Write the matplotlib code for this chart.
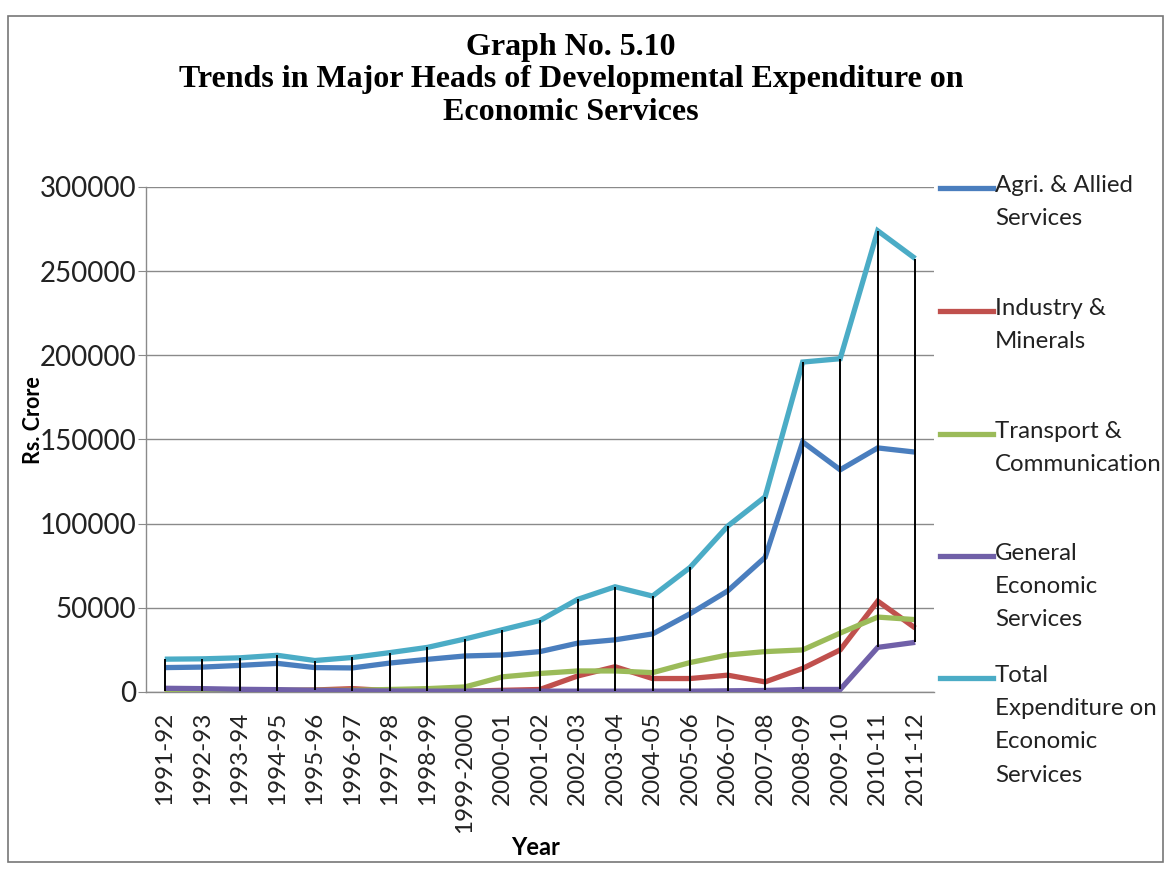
import matplotlib
matplotlib.use("Agg")
import matplotlib.pyplot as plt
from matplotlib.patches import Rectangle
from matplotlib.lines import Line2D

# Expenditure on economic services, Rs. crore
years = ["1991-92", "1992-93", "1993-94", "1994-95", "1995-96", "1996-97", "1997-98",
         "1998-99", "1999-2000", "2000-01", "2001-02", "2002-03", "2003-04", "2004-05",
         "2005-06", "2006-07", "2007-08", "2008-09", "2009-10", "2010-11", "2011-12"]

agri = [14500, 14800, 15800, 17000, 14500, 14300, 17200, 19400, 21400, 22000, 24000,
        29000, 31000, 34500, 46500, 60000, 80000, 148500, 132000, 145000, 142500]
industry = [500, 500, 600, 800, 1200, 2000, 800, 300, 500, 1000, 1500,
            9500, 15000, 8000, 8000, 10000, 6000, 14000, 25000, 54000, 38000]
transport = [800, 800, 900, 1000, 1000, 1000, 1500, 2000, 3000, 9000, 11000,
             12500, 12500, 11500, 17500, 22000, 24000, 25000, 35000, 44500, 43000]
general = [2200, 2000, 1600, 1400, 1000, 700, 600, 500, 500, 500, 500,
           500, 500, 500, 500, 700, 900, 1500, 1500, 26500, 29500]
total = [19500, 19700, 20300, 21800, 18700, 20500, 23400, 26500, 31500, 37000, 42500,
         55000, 62500, 57000, 74000, 98500, 116000, 196000, 198000, 274000, 257500]

labels = ["Agri. & Allied\nServices", "Industry &\nMinerals", "Transport &\nCommunication",
          "General\nEconomic\nServices", "Total\nExpenditure on\nEconomic\nServices"]
colors = ["#4A7EBE", "#C0504D", "#9BBB59", "#7060A8", "#4BACC6"]
series = [agri, industry, transport, general, total]

W, H = 1166, 869
fig = plt.figure(figsize=(W / 100, H / 100), dpi=100)
fig.patch.set_facecolor("white")

# outer chart frame
fig.patches.append(Rectangle((8 / W, 1 - 862 / H), 1155 / W, 846 / H,
                             transform=fig.transFigure, fill=False,
                             ec="#777777", lw=1.2))

ax = fig.add_axes([146 / W, 1 - 692 / H, 788 / W, 505 / H])
x = list(range(len(years)))

for vals, c in zip(series, colors):
    ax.plot(x, vals, color=c, lw=3.8, solid_capstyle="butt", solid_joinstyle="miter", zorder=3)

# high-low lines between the smallest and largest value in each year
lows = [min(v) for v in zip(*series)]
highs = [max(v) for v in zip(*series)]
ax.vlines(x, lows, highs, color="black", lw=1.4, zorder=4)

ax.set_xlim(-0.5, len(years) - 0.5)
ax.set_ylim(0, 300000)
ax.set_yticks(range(0, 300001, 50000))
ax.yaxis.grid(True, color="#8a8a8a", lw=1.0)
ax.set_axisbelow(True)
for s in ["top", "right"]:
    ax.spines[s].set_visible(False)
for s in ["left", "bottom"]:
    ax.spines[s].set_color("#8a8a8a")
    ax.spines[s].set_linewidth(1.0)

ax.set_xticks(x)
ax.set_xticklabels(years, rotation=90, fontsize=17.5, family="Lato", color="#222222")
ax.tick_params(axis="x", length=0, pad=14)
ax.tick_params(axis="y", length=6, color="#8a8a8a", pad=1, labelsize=20, labelcolor="#222222")
for t in ax.get_yticklabels():
    t.set_family("Lato")

ax.set_xlabel("Year", fontsize=17, fontweight="bold", family="Lato")
ax.xaxis.set_label_coords(0.494, -0.285)
fig.text(33 / W, 1 - 420 / H, "Rs. Crore", rotation=90, fontsize=15.5, fontweight="bold",
         family="Lato", ha="center", va="center")

fig.text(571 / W, 1 - 80 / H,
         "Graph No. 5.10\nTrends in Major Heads of Developmental Expenditure on\nEconomic Services",
         ha="center", va="center", fontsize=23, fontweight="bold", family="Liberation Serif",
         linespacing=1.17)

# legend on the right, key line level with the first line of each label
key_y = [188, 311, 434, 556, 678]
for lab, c, ky in zip(labels, colors, key_y):
    fig.add_artist(Line2D([940 / W, 993 / W], [1 - ky / H, 1 - ky / H], color=c, lw=3.8,
                          transform=fig.transFigure))
    fig.text(995 / W, 1 - (ky - 13) / H, lab, ha="left", va="top", fontsize=17.3,
             family="Lato", linespacing=1.72, color="#222222")

fig.savefig("out.png", dpi=100)
